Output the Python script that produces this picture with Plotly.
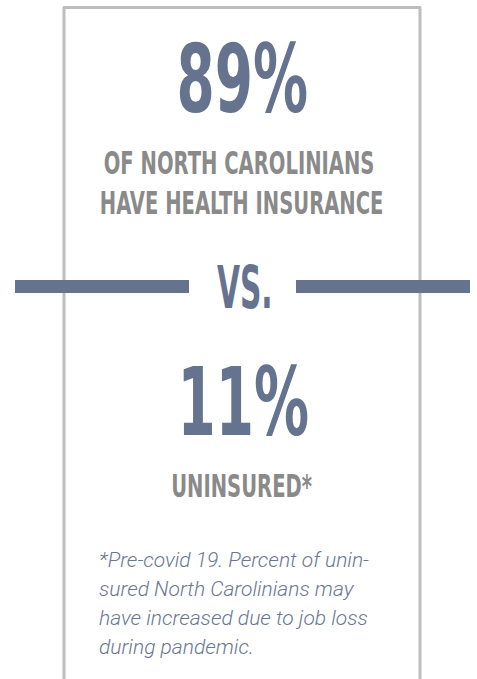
import json
import plotly.graph_objects as go

# ---- data ----
insured_pct = [89]
uninsured_pct = [11]
insured_label = ["OF NORTH CAROLINIANS", "HAVE HEALTH INSURANCE"]
uninsured_label = ["UNINSURED*"]
vs_label = "VS."
footnote_lines = [
    "*Pre-covid 19. Percent of unin-",
    "sured North Carolinians may",
    "have increased due to job loss",
    "during pandemic.",
]

W, H = 477, 679
BLUE = "#66738f"
GREY = "#8a8a8a"
BORDER = "#bdbdbd"
COND = "DejaVu Sans Condensed, Roboto, sans-serif"


def px(x):
    return x / W


def py(y):
    return 1 - y / H


fig = go.Figure()
shapes = [
    dict(type="line", x0=px(64), x1=px(64), y0=py(7), y1=py(H + 5), line=dict(color=BORDER, width=3)),
    dict(type="line", x0=px(420), x1=px(420), y0=py(7), y1=py(H + 5), line=dict(color=BORDER, width=3)),
    dict(type="line", x0=px(63), x1=px(421), y0=py(7.5), y1=py(7.5), line=dict(color=BORDER, width=3)),
    dict(type="rect", x0=px(15), x1=px(189), y0=py(280), y1=py(293), fillcolor=BLUE, line=dict(width=0)),
    dict(type="rect", x0=px(296), x1=px(470), y0=py(280), y1=py(293), fillcolor=BLUE, line=dict(width=0)),
]

ann = []
squeeze = []  # horizontal condensing per annotation (1 = none)


def add(text, x, y, font, sq=1.0, **kw):
    ann.append(dict(text=text, x=px(x), y=py(y), font=font, **kw))
    squeeze.append(sq)


add(f"{insured_pct[0]}%", 242, 79, dict(family=COND, size=94, color=BLUE, weight="bold"), 0.65)
add(insured_label[0], 239, 163, dict(family=COND, size=32, color=GREY, weight="bold"), 0.68)
add(insured_label[1], 242, 203, dict(family=COND, size=32, color=GREY, weight="bold"), 0.68)
add(vs_label, 245, 287, dict(family=COND, size=59, color=BLUE, weight="bold"), 0.56)
add(f"{uninsured_pct[0]}%", 243, 402, dict(family=COND, size=94, color=BLUE, weight="bold"), 0.65)
add(uninsured_label[0], 241, 486, dict(family=COND, size=32, color=GREY, weight="bold"), 0.68)

foot_y = [560, 589, 618, 647]
for line, yy in zip(footnote_lines, foot_y):
    add(line, 97, yy, dict(family="Roboto", size=21, color="#6b7792", style="italic", weight=300),
        1.0, xanchor="left")

for a in ann:
    a.setdefault("xanchor", "center")
    a.update(xref="paper", yref="paper", yanchor="middle", showarrow=False)

fig.update_layout(
    width=W, height=H,
    margin=dict(l=0, r=0, t=0, b=0),
    paper_bgcolor="white", plot_bgcolor="white",
    xaxis=dict(visible=False, range=[0, 1]),
    yaxis=dict(visible=False, range=[0, 1]),
    shapes=shapes,
    annotations=ann,
    showlegend=False,
)

post = """
document.body.style.margin='0';
document.body.style.overflow='hidden';
var sq = %s;
document.querySelectorAll('g.annotation text.annotation-text').forEach(function(t, i){
  if (sq[i] !== undefined && sq[i] !== 1) {
    t.style.transformBox = 'fill-box';
    t.style.transformOrigin = 'center';
    t.style.transform = 'scaleX(' + sq[i] + ')';
  }
});
""" % json.dumps(squeeze)

fig.write_html("out.html", config={"displayModeBar": False}, post_script=post)
